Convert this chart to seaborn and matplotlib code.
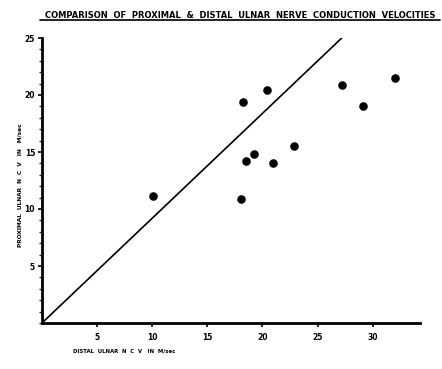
import matplotlib
matplotlib.use("Agg")
import matplotlib.pyplot as plt
import seaborn as sns
import pandas as pd
from matplotlib.lines import Line2D
from matplotlib.ticker import MultipleLocator

distal = [10.1, 18.2, 20.4, 27.2, 29.1, 32.0, 22.9, 19.2, 18.5, 21.0, 18.1]
proximal = [11.1, 19.4, 20.4, 20.9, 19.0, 21.5, 15.5, 14.8, 14.2, 14.0, 10.9]
line_x = [0, 27.2]
line_y = [0, 25]
x_ticks = [5, 10, 15, 20, 25, 30]
y_ticks = [5, 10, 15, 20, 25]

sns.set_style("white")
plt.rcParams['font.family'] = ['DejaVu Sans']
plt.rcParams['text.color'] = 'black'

fig = plt.figure(figsize=(4.42, 3.69), dpi=100)
ax = fig.add_axes([42/442, 46/369, (420-42)/442, (323-38)/369])

df = pd.DataFrame({"d": distal, "p": proximal})
ldf = pd.DataFrame({"x": line_x, "y": line_y})
sns.lineplot(data=ldf, x="x", y="y", color="black", linewidth=1.2, ax=ax)
sns.scatterplot(data=df, x="d", y="p", color="black", s=38, edgecolor="black", linewidth=0, ax=ax)

ax.set_xlim(0, 34.3)
ax.set_ylim(0, 25)
ax.set_xticks(x_ticks)
ax.set_yticks(y_ticks)
ax.yaxis.set_minor_locator(MultipleLocator(1))
ax.tick_params(axis='both', which='major', direction='out', length=3, width=1.2,
               labelsize=5.5, colors='black', labelcolor='black', pad=2, bottom=True, left=True)
ax.tick_params(axis='x', which='major', pad=4)
ax.tick_params(axis='y', which='minor', direction='out', length=2, width=1, left=True)
for lab in ax.get_xticklabels() + ax.get_yticklabels():
    lab.set_fontweight('bold')

for s in ["top", "right"]:
    ax.spines[s].set_visible(False)
for s in ["left", "bottom"]:
    ax.spines[s].set_linewidth(2)
    ax.spines[s].set_color("black")

ax.set_xlabel("")
ax.set_ylabel("")
fig.text(73/442, 1 - 351/369, "DISTAL  ULNAR  N  C  V   IN  M/sec", fontsize=3.9,
         fontweight='bold', ha='left', va='center', color='black')
fig.text(20/442, 1 - 185/369, "PROXIMAL  ULNAR  N  C  V   IN   M/sec", fontsize=4.2,
         fontweight='bold', ha='center', va='center', rotation=90, color='black')

fig.text(240/442, 1 - 15/369, "COMPARISON  OF  PROXIMAL  &  DISTAL  ULNAR  NERVE  CONDUCTION  VELOCITIES",
         fontsize=6, fontweight='bold', ha='center', va='center', color='black')
fig.add_artist(Line2D([40/442, 440/442], [1 - 20/369, 1 - 20/369], color='black', linewidth=1.2))

fig.savefig("out.png", dpi=100)
